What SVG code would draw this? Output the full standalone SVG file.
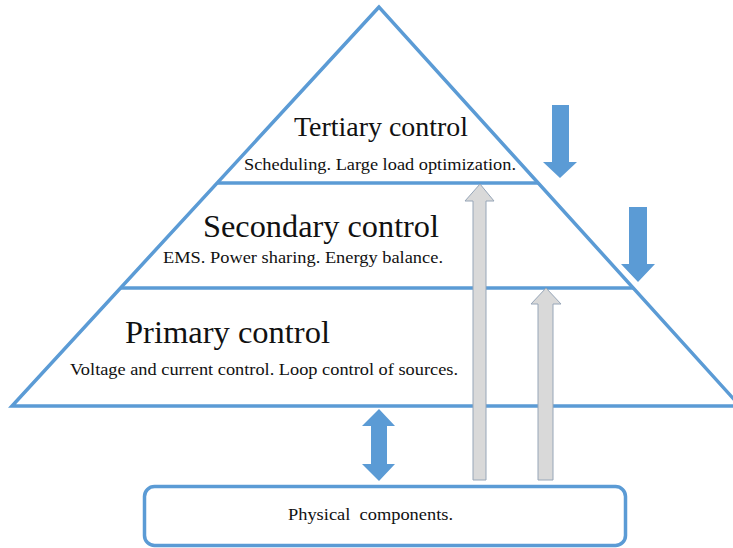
<svg xmlns="http://www.w3.org/2000/svg" width="733" height="548" viewBox="0 0 733 548">
<style>
.edge{fill:none;stroke:#5B9BD5;stroke-width:3.5;stroke-linejoin:miter}
.box{fill:#fff;stroke:#5B9BD5;stroke-width:3.5}
.t{fill:#111;font-family:'Times New Roman','Liberation Serif',Tinos,'DejaVu Serif',serif}
.blue{fill:#5B9BD5;stroke:none}
.grey{fill:#D9D9D9;stroke:#97A6B8;stroke-width:1}
</style>
<rect width="733" height="548" fill="#fff"/>
<g id="pyramid">
<polygon class="edge" points="379,7 12,406 740,406"/>
</g>
<g id="tertiary">
<line class="edge" x1="217" y1="183" x2="538" y2="183"/>
<text class="t" x="294" y="136" font-size="28" textLength="174" lengthAdjust="spacingAndGlyphs">Tertiary control</text>
<text class="t" x="244" y="170" font-size="17" textLength="272" lengthAdjust="spacingAndGlyphs">Scheduling. Large load optimization.</text>
</g>
<g id="secondary">
<line class="edge" x1="120" y1="288" x2="633" y2="288"/>
<text class="t" x="203" y="237" font-size="32" textLength="236" lengthAdjust="spacingAndGlyphs">Secondary control</text>
<text class="t" x="163" y="263" font-size="17" textLength="280" lengthAdjust="spacingAndGlyphs">EMS. Power sharing. Energy balance.</text>
</g>
<g id="primary">
<text class="t" x="125" y="343" font-size="31" textLength="205" lengthAdjust="spacingAndGlyphs">Primary control</text>
<text class="t" x="70" y="375" font-size="17" textLength="388" lengthAdjust="spacingAndGlyphs">Voltage and current control. Loop control of sources.</text>
</g>
<g id="physical">
<rect class="box" x="144.5" y="486.5" width="481" height="59" rx="10" ry="10"/>
<text class="t" x="288" y="520" font-size="17" textLength="165" lengthAdjust="spacingAndGlyphs" xml:space="preserve">Physical  components.</text>
</g>
<g id="connectors">
<polygon class="blue" points="552,105 569,105 569,162 577,162 560,178 543,162 552,162"/>
<polygon class="blue" points="629,207 647,207 647,264 655,264 638,282 621,264 629,264"/>
<polygon class="blue" points="379,409 395,426 387,426 387,464 395,464 379,481 362,464 371,464 371,426 362,426"/>
<polygon class="grey" points="480,184 494,201 486,201 486,480 473,480 473,201 465,201"/>
<polygon class="grey" points="546,288 561,304 553,304 553,480 538,480 538,304 531,304"/>
</g>
</svg>
